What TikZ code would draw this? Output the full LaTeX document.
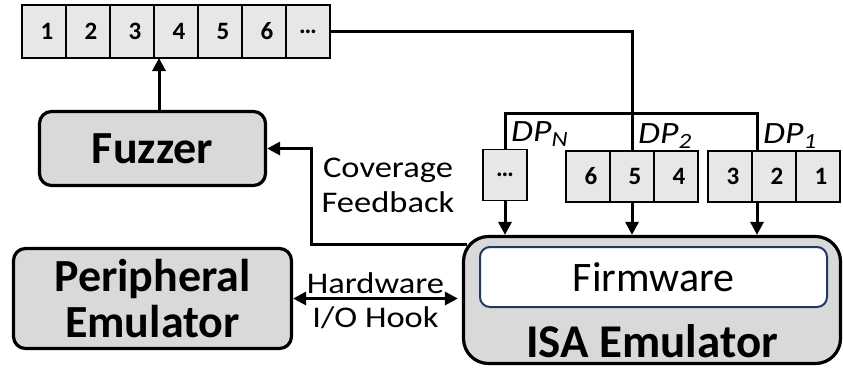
\documentclass[tikz,border=0pt]{standalone}
\usepackage{fontspec}
\setmainfont{Carlito}
\newfontfamily\labelfont[FakeStretch=1.15]{Carlito}
\usepackage{xcolor}
\usepackage{tikz}
\usetikzlibrary{arrows.meta,positioning}
\definecolor{cellgray}{HTML}{E7E7E7}
\definecolor{boxgray}{HTML}{D9D9D9}
\definecolor{fwblue}{HTML}{1F3864}
\begin{document}
\begin{tikzpicture}[x=1pt,y=-1pt,>={Triangle[length=13pt,width=13pt]},
cell/.style={draw,line width=1.8pt,fill=cellgray,minimum width=44pt,minimum height=51pt,inner sep=0pt,outer sep=0pt,font=\fontsize{25}{28}\selectfont\bfseries},
blk/.style={draw,line width=3.2pt,fill=boxgray,rounded corners=12pt,inner sep=0pt,align=center,font={\fontsize{46}{46}\selectfont\bfseries}},
lbl/.style={font={\fontsize{30}{35}\selectfont\labelfont\lineskiplimit=-50pt},align=center,inner sep=0pt},
dp/.style={font=\fontsize{31}{34}\selectfont\labelfont\itshape,anchor=base west,inner sep=0pt},
wire/.style={line width=3pt}]
\useasboundingbox (0,0) rectangle (843,368);
\foreach \t [count=\i] in {1,2,3,4,5,6}
  \node[cell,minimum height=53pt] (s\i) at (44*\i,31.5) {\hspace*{6pt}\t};
\node[cell,minimum height=53pt] (s7) at (308,31.5) {…};
\node[blk,minimum width=226pt,minimum height=74pt] (fuzz) at (152.5,148.5) {Fuzzer};
\node[blk,minimum width=278pt,minimum height=100pt] (per) at (152.5,298.5) {Peripheral\\Emulator};
\node[blk,rounded corners=25pt,minimum width=377pt,minimum height=127pt] (isa) at (652,300) {};
\node[draw=fwblue,line width=2pt,fill=white,rounded corners=10pt,minimum width=347pt,minimum height=60pt,font=\fontsize{42}{48}\selectfont] (fw) at (653.5,277) {Firmware};
\node[anchor=base,inner sep=0pt,font=\fontsize{47}{50}\selectfont\bfseries] (isalbl) at (652,357) {ISA Emulator};
\node[cell] (dn) at (505,175) {…};
\node[cell] (d6) at (588,176.5) {\hspace*{6pt}6};
\node[cell,right=0pt of d6] (d5) {\hspace*{6pt}5};
\node[cell,right=0pt of d5] (d4) {\hspace*{6pt}4};
\node[cell] (d3) at (730,176.5) {\hspace*{6pt}3};
\node[cell,right=0pt of d3] (d2) {\hspace*{6pt}2};
\node[cell,right=0pt of d2] (d1) {\hspace*{6pt}1};
\coordinate (split) at (d5.north |- 0,113);
\coordinate (p1) at ([xshift=5pt]d2.north west);
\coordinate (up) at ([xshift=5pt]s4.south west);
\coordinate (fb) at ([shift={(5pt,-10pt)}]isa.north west);
\draw[wire] (s7.east) -| (split);
\draw[wire] (dn.north) |- (split) -| (p1);
\draw[wire] (split) -- (d5.north);
\draw[wire,->] (up |- fuzz.north) -- (up);
\draw[wire,->] (dn.south) -- (dn.south |- isa.north);
\draw[wire,->] (d5.south) -- (d5.south |- isa.north);
\draw[wire,->] (p1 |- d2.south) -- (p1 |- isa.north);
\draw[wire,->] (fb) -| ([xshift=44pt]fuzz.east) -- (fuzz.east);
\draw[wire,<->] (per.east) -- node[lbl,anchor=base,yshift=5.5pt] (hw) {Hardware} node[lbl,anchor=base,yshift=-28.5pt] (hook) {I/O Hook} ([xshift=-4pt]per.east -| isa.west);
\node[lbl] (cov) at (388,185) {Coverage\\Feedback};
\node[dp] (dpn) at ([shift={(6pt,8pt)}]dn.north) {DP\textsubscript{N}};
\node[dp] (dp2) at ([shift={(6pt,8pt)}]d5.north) {DP\textsubscript{2}};
\node[dp] (dp1) at ([shift={(6pt,8pt)}]p1) {DP\textsubscript{1}};
\end{tikzpicture}
\end{document}
